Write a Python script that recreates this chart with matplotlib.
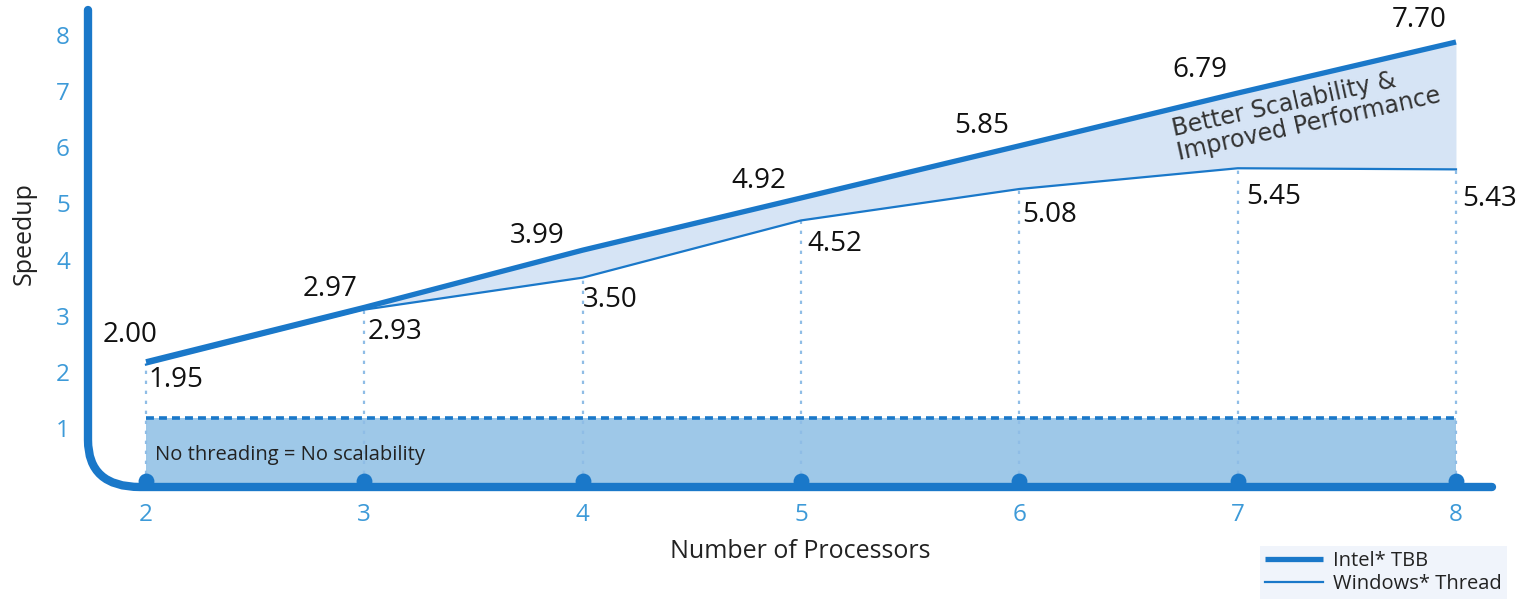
import matplotlib
matplotlib.use("Agg")
import matplotlib.pyplot as plt
from matplotlib.path import Path
from matplotlib.patches import PathPatch
from matplotlib.transforms import ScaledTranslation

# ---- data ----
processors = [2, 3, 4, 5, 6, 7, 8]
tbb = [2.00, 2.97, 3.99, 4.92, 5.85, 6.79, 7.70]
win = [1.95, 2.93, 3.50, 4.52, 5.08, 5.45, 5.43]
yticks = [1, 2, 3, 4, 5, 6, 7, 8]
no_thread = 1.0

# ---- style ----
BLUE = "#1a78c9"
TICKC = "#3d9ad8"
FILL_UP = "#d6e4f5"
FILL_LOW = "#9ec8e8"
DOT = "#8fbde6"
TXT = "#111111"
plt.rcParams["font.family"] = ["Open Sans", "DejaVu Sans"]

W, H = 1524, 599
fig = plt.figure(figsize=(W / 100, H / 100), dpi=100)
L, R, T, B = 88, 1500, 5, 495
ax = fig.add_axes([L / W, 1 - B / H, (R - L) / W, (B - T) / H])


def px2x(px):
    return 2 + (px - 146) / 218.33


def py2y(py):
    return (474 - py) / 56.1


ax.set_xlim(px2x(L), px2x(R))
ax.set_ylim(py2y(B), py2y(T))
for s in ax.spines.values():
    s.set_visible(False)

# lower band (no threading)
base = py2y(484)
ax.fill_between([processors[0], processors[-1]], base, no_thread, color=FILL_LOW, lw=0, zorder=1)
ax.plot([processors[0], processors[-1]], [no_thread, no_thread], color=BLUE, lw=2.6,
        linestyle=(0, (2.2, 1.4)), zorder=3)

# vertical dotted guides
ax.vlines(processors, base, win, colors=DOT, linestyles=(0, (1.5, 3)), lw=1.6, zorder=2)

# area between curves
ax.fill_between(processors, win, tbb, color=FILL_UP, lw=0, zorder=1)
l1, = ax.plot(processors, tbb, color=BLUE, lw=3.8, solid_capstyle="butt", zorder=4, label="Intel* TBB")
l2, = ax.plot(processors, win, color=BLUE, lw=1.6, zorder=4, label="Windows* Thread")

# axis frame with curved corner
verts = [(px2x(88), py2y(10)), (px2x(88), py2y(440)), (px2x(88), py2y(487)),
         (px2x(140), py2y(487)), (px2x(1492), py2y(487))]
codes = [Path.MOVETO, Path.LINETO, Path.CURVE3, Path.CURVE3, Path.LINETO]
ax.add_patch(PathPatch(Path(verts, codes), fill=False, edgecolor=BLUE, lw=6,
                       capstyle="round", joinstyle="round", clip_on=False, zorder=5))
ax.scatter(processors, [py2y(481)] * len(processors), s=130, color=BLUE, zorder=5, clip_on=False, lw=0)

# value labels
tbb_off = [(12, 13), (-7, 4), (-18, 0), (-15, 3), (-10, 6), (-10, 9), (-9, 8)]
for x, v, (dx, dy) in zip(processors, tbb, tbb_off):
    ax.annotate(f"{v:.2f}", (x, v), xytext=(dx, dy), textcoords="offset pixels",
                ha="right", va="bottom", fontsize=20, color=TXT, zorder=6)
win_off = [(2, -1), (3, -8), (0, -8), (6, -10), (3, -12), (9, -15), (6, -16)]
for x, v, (dx, dy) in zip(processors, win, win_off):
    ax.annotate(f"{v:.2f}", (x, v), xytext=(dx, dy), textcoords="offset pixels",
                ha="left", va="top", fontsize=20, color=TXT, zorder=6)

ax.text(px2x(155), py2y(455), "No threading = No scalability", ha="left", va="center",
        fontsize=14.5, color="#222222", zorder=6)
ax.text(px2x(1306), py2y(112), "Better Scalability &\nImproved Performance", ha="center", va="center",
        rotation=12.5, rotation_mode="anchor", multialignment="left", fontsize=17,
        color="#333333", family=["DejaVu Sans"], linespacing=1.0, zorder=6)

# ticks
ax.set_xticks(processors)
ax.set_xticklabels([str(p) for p in processors])
ax.set_yticks(yticks)
ax.set_yticklabels([str(t) for t in yticks])
ax.tick_params(axis="both", length=0, labelsize=17.5, labelcolor=TICKC)
ax.tick_params(axis="x", pad=6)
ax.tick_params(axis="y", pad=13)
for lab in ax.get_yticklabels():
    lab.set_transform(lab.get_transform() + ScaledTranslation(0, -10 / 100, fig.dpi_scale_trans))

fig.text(800 / W, 1 - 551 / H, "Number of Processors", ha="center", va="center", fontsize=18, color="#222222")
fig.text(24 / W, 1 - 234 / H, "Speedup", ha="center", va="center", rotation=90, fontsize=18, color="#222222")

leg = fig.legend(handles=[l1, l2], loc="lower right", bbox_to_anchor=(1507 / W, 0), fontsize=14.5,
                 handlelength=2.9, handletextpad=0.5, frameon=True, fancybox=False, borderaxespad=0,
                 labelspacing=0.15, borderpad=0.25)
leg.get_frame().set_facecolor("#edf2fa")
leg.get_frame().set_edgecolor("none")
for t in leg.get_texts():
    t.set_color("#222222")

fig.savefig("out.png", dpi=100)
